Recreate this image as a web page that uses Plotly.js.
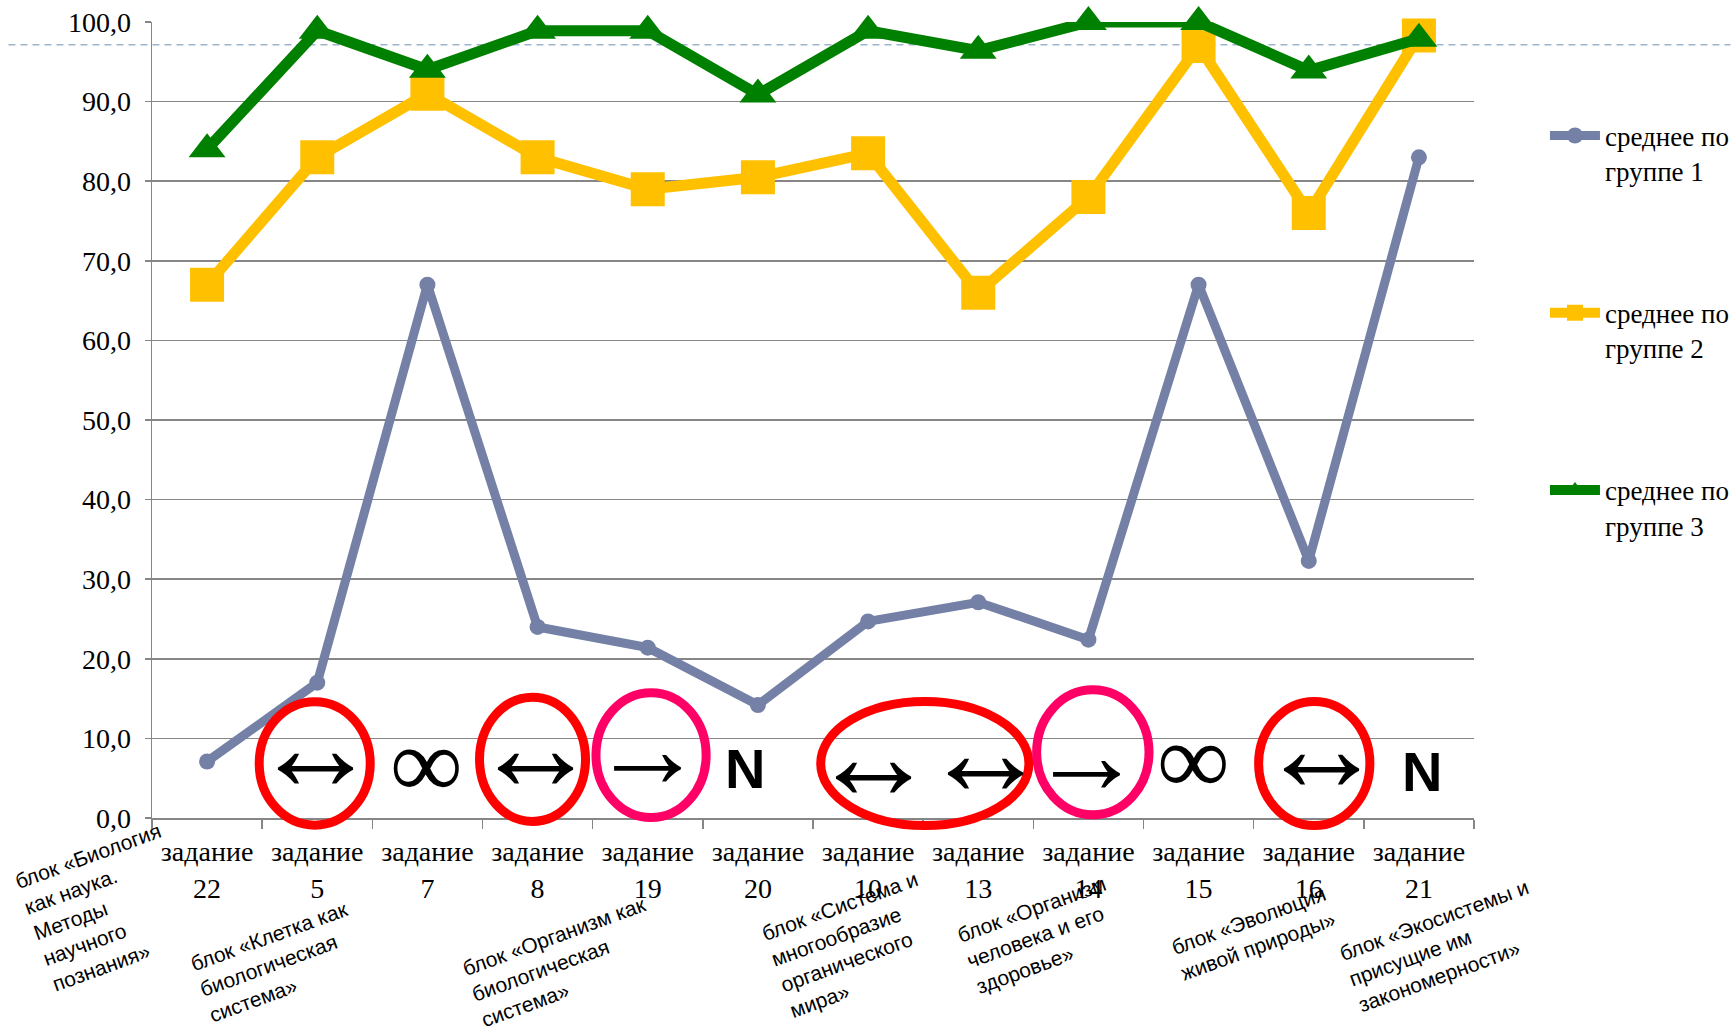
<!DOCTYPE html>
<html>
<head>
<meta charset="utf-8">
<script src="https://cdn.plot.ly/plotly-3.0.1.min.js"></script>
<style>
html,body{margin:0;padding:0;background:#fff;}
#chart{width:1733px;height:1034px;}
</style>
</head>
<body>
<div id="chart"></div>
<script>
// ---- data ----
const tasks = ['22','5','7','8','19','20','10','13','14','15','16','21'];
const categories = tasks.map(t => 'задание<br>' + t);
const seriesNames = ['среднее по<br>группе 1','среднее по<br>группе 2','среднее по<br>группе 3'];
const group1 = [7.1, 17.0, 67.0, 24.0, 21.4, 14.2, 24.7, 27.1, 22.4, 67.0, 32.3, 83.0];
const group2 = [67.0, 83.0, 91.0, 83.0, 79.0, 80.5, 83.5, 66.0, 78.0, 97.0, 76.0, 98.3];
const group3 = [84.0, 98.9, 94.0, 98.9, 98.9, 90.9, 98.9, 96.4, 100.0, 100.0, 93.9, 97.9];
const referenceLevel = 97.15;

// block captions under the axis (positions in paper fractions)
const blockTexts = [
  'блок «Биология<br>как наука.<br>Методы<br>научного<br>познания»',
  'блок «Клетка как<br>биологическая<br>система»',
  'блок «Организм как<br>биологическая<br>система»',
  'блок «Система и<br>многообразие<br>органического<br>мира»',
  'блок «Организм<br>человека и его<br>здоровье»',
  'блок «Эволюция<br>живой природы»',
  'блок «Экосистемы и<br>присущие им<br>закономерности»'
];
const blockX = [-0.0339, 0.0957, 0.3114, 0.5312, 0.6725, 0.8331, 0.9768];
const blockY = [-0.1123, -0.1815, -0.1810, -0.1595, -0.1470, -0.1443, -0.1609];

// symbols drawn over the lower part of the plot
const symbolTexts = ['↔','∞','↔','→','N','↔','↔','→','∞','↔','N'];
const symbolX = [0.985, 1.99, 2.98, 4.0, 4.88, 6.05, 7.07, 7.98, 8.95, 10.12, 11.03];
const symbolY = [8.95, 6.8, 8.95, 8.7, 6.2, 7.85, 8.35, 7.95, 7.4, 8.75, 5.8];

// ellipses: centre (category index, value), half-width (categories), half-height (value)
const ellipseCX = [0.977, 2.954, 4.03, 6.515, 8.04, 10.05];
const ellipseCY = [6.85, 7.37, 7.9, 6.85, 8.25, 6.85];
const ellipseHW = [0.504, 0.481, 0.50, 0.945, 0.51, 0.505];
const ellipseHH = [7.75, 7.8, 7.85, 7.8, 7.85, 7.8];
const ellipseColors = ['#FF0000','#FF0000','#FF0066','#FF0000','#FF0066','#FF0000'];

// ---- styles ----
const serif = 'Liberation Serif, Times New Roman, serif';
const sans = 'Liberation Sans, Arial, sans-serif';
const axisGray = '#868686';

const traces = [
  {x: categories, y: group1, name: seriesNames[0], type: 'scatter', mode: 'lines+markers',
   legendgroup: 'g1', cliponaxis: false,
   line: {color: '#7480A6', width: 9}, marker: {symbol: 'circle', size: 16, color: '#7480A6'}},
  {x: categories, y: group2, name: seriesNames[1], type: 'scatter', mode: 'lines+markers',
   legendgroup: 'g2', cliponaxis: false,
   line: {color: '#FFC000', width: 11}, marker: {symbol: 'square', size: 34, color: '#FFC000'}},
  {x: categories, y: group3, name: seriesNames[2], type: 'scatter', mode: 'lines+markers',
   legendgroup: 'g3', cliponaxis: false,
   line: {color: '#008000', width: 11}, marker: {symbol: 'triangle-up', size: 32, color: '#008000'}}
];

const shapes = [];
shapes.push({type: 'line', xref: 'paper', yref: 'y', x0: -0.1086, x1: 1.194,
  y0: referenceLevel, y1: referenceLevel, layer: 'between',
  line: {color: '#9DB4CC', width: 1.5, dash: '7px,5px'}});
for (let i = 0; i < ellipseCX.length; i++) {
  shapes.push({type: 'circle', xref: 'x', yref: 'y domain', layer: 'above',
    x0: ellipseCX[i] - ellipseHW[i], x1: ellipseCX[i] + ellipseHW[i],
    y0: (ellipseCY[i] - ellipseHH[i]) / 100, y1: (ellipseCY[i] + ellipseHH[i]) / 100,
    line: {color: ellipseColors[i], width: 9}});
}

const annotations = [];
for (let i = 0; i < blockTexts.length; i++) {
  annotations.push({text: blockTexts[i], xref: 'paper', yref: 'paper', x: blockX[i], y: blockY[i],
    xanchor: 'center', yanchor: 'middle', showarrow: false, textangle: -20, align: 'left',
    font: {family: sans, size: 21, color: '#000'}});
}
for (let i = 0; i < symbolTexts.length; i++) {
  const t = symbolTexts[i];
  let font;
  if (t === 'N') font = {family: sans, size: 56, color: '#000', weight: 'bold'};
  else if (t === '∞') font = {family: serif, size: 99, color: '#000', weight: 'bold'};
  else if (t === '→') font = {family: serif, size: 113, color: '#000'};
  else font = {family: serif, size: 127, color: '#000'};
  annotations.push({text: t, xref: 'x', yref: 'y', x: symbolX[i], y: symbolY[i],
    xanchor: 'center', yanchor: 'middle', showarrow: false, font: font});
}

const layout = {
  width: 1733, height: 1034,
  margin: {l: 152, r: 259, t: 22, b: 216},
  paper_bgcolor: '#fff', plot_bgcolor: '#fff',
  separators: ', ',
  font: {family: serif, size: 28, color: '#000'},
  showlegend: true,
  legend: {xref: 'container', yref: 'container', x: 0.8915, y: 0.8922,
    xanchor: 'left', yanchor: 'top', valign: 'top',
    tracegroupgap: 104, itemwidth: 50, bgcolor: 'rgba(0,0,0,0)',
    font: {family: serif, size: 27, color: '#000'}},
  xaxis: {type: 'category', range: [-0.5, 11.5], showgrid: false, zeroline: false,
    showline: true, linecolor: axisGray, linewidth: 1.5,
    ticks: 'outside', tickson: 'boundaries', ticklen: 9, tickcolor: axisGray, tickwidth: 1.5,
    tickangle: 0, ticklabelstandoff: 8,
    tickfont: {family: serif, size: 28, color: '#000'}},
  yaxis: {range: [0, 100], dtick: 10, tickformat: '.1f', zeroline: false,
    showline: true, linecolor: axisGray, linewidth: 1.5,
    showgrid: true, gridcolor: axisGray, gridwidth: 1.5,
    ticks: 'outside', ticklen: 6, tickcolor: axisGray, tickwidth: 1.5,
    ticklabelstandoff: 8,
    tickfont: {family: serif, size: 28, color: '#000'}},
  shapes: shapes,
  annotations: annotations
};

Plotly.newPlot('chart', traces, layout, {displayModeBar: false, staticPlot: true});
</script>
</body>
</html>
